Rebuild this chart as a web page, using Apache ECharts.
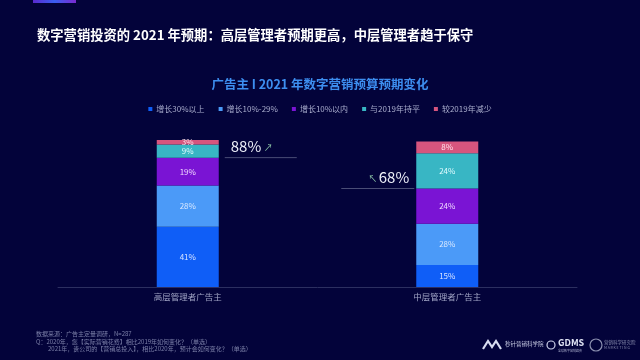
<!DOCTYPE html>
<html><head><meta charset="utf-8">
<style>html,body{margin:0;padding:0;background:#03033a;}#c{width:640px;height:360px;}</style>
<script src="https://cdn.jsdelivr.net/npm/echarts@6/dist/echarts.min.js"></script>
</head><body><div id="c"></div>
<script>
const categories = ['高层管理者广告主', '中层管理者广告主'];
const seriesNames = ['增长30%以上', '增长10%-29%', '增长10%以内', '与2019年持平', '较2019年减少'];
const grow30 = [41, 15];
const grow10to29 = [28, 28];
const growUnder10 = [19, 24];
const flat = [9, 24];
const decrease = [3, 8];
const growthTotals = [88, 68];

const colors = ['#0f5ef7', '#4b9af8', '#7a14d4', '#38b6c4', '#d6557e'];
const font = '"Noto Sans CJK SC", "Noto Sans", sans-serif';
const chart = echarts.init(document.getElementById('c'));
const values = [grow30, grow10to29, growUnder10, flat, decrease];
const labelColors = ['#d8e4ff', '#d8e8ff', '#f0d8ff', '#e0fbff', '#ffe0ea'];

chart.setOption({
  backgroundColor: '#03033a',
  textStyle: { fontFamily: font },
  title: [
    { text: '数字营销投资的 2021 年预期：高层管理者预期更高，中层管理者趋于保守', left: 32, top: 23,
      textStyle: { color: '#ffffff', fontSize: 13.3, fontWeight: 'bold', fontFamily: font } },
    { text: '广告主 I 2021 年数字营销预算预期变化', left: 'center', top: 73,
      textStyle: { color: '#3d8ef0', fontSize: 12.5, fontWeight: 'bold', fontFamily: font } }
  ],
  legend: {
    top: 100, left: 'center', itemWidth: 4, itemHeight: 4, itemGap: 14, icon: 'rect',
    textStyle: { color: '#a8accc', fontSize: 8, fontFamily: font, padding: [0, 0, 0, -1] },
    data: seriesNames
  },
  grid: { left: 58, right: 63, top: 140, bottom: 73 },
  xAxis: {
    type: 'category', data: categories,
    axisLine: { lineStyle: { color: '#2c2f60' } },
    axisTick: { show: false },
    axisLabel: { color: '#a0a4c4', fontSize: 8.5, margin: 6, fontFamily: font }
  },
  yAxis: { type: 'value', min: 0, max: 100, show: false, splitLine: { show: false } },
  series: seriesNames.map((n, i) => ({
    name: n, type: 'bar', stack: 'a', barWidth: 62, data: values[i],
    itemStyle: { color: colors[i] },
    label: { show: true, position: 'inside', formatter: '{c}%', color: labelColors[i], fontSize: 8, fontFamily: font }
  }))
});

// annotations positioned from the data via the chart's scales
const cum = categories.map((_, k) => grow30[k] + grow10to29[k] + growUnder10[k]);
const p0 = chart.convertToPixel({ gridIndex: 0 }, [0, cum[0]]);
const p1 = chart.convertToPixel({ gridIndex: 0 }, [1, cum[1]]);
const half = 31;
const lineColor = '#4a4d76';
chart.setOption({
  graphic: [
    { type: 'rect', left: 33, top: 0, shape: { width: 43, height: 3 },
      style: { fill: new echarts.graphic.LinearGradient(0, 0, 1, 0, [{ offset: 0, color: '#5a2ad0' }, { offset: 0.5, color: '#3a5ef0' }, { offset: 1, color: '#7a2ad0' }]) } },
    // left annotation
    { type: 'line', shape: { x1: p0[0] + half + 6, y1: p0[1], x2: p0[0] + half + 78, y2: p0[1] }, style: { stroke: lineColor, lineWidth: 1 } },
    { type: 'text', x: p0[0] + half + 12, y: p0[1] - 11, style: { text: growthTotals[0] + '%', fill: '#eceef8', fontSize: 15, fontFamily: font, verticalAlign: 'middle' } },
    { type: 'text', x: p0[0] + half + 45, y: p0[1] - 10, style: { text: '↗', fill: '#8fc8a8', fontSize: 9, fontFamily: font, verticalAlign: 'middle' } },
    // right annotation
    { type: 'line', shape: { x1: p1[0] - half - 75, y1: p1[1], x2: p1[0] - half - 2, y2: p1[1] }, style: { stroke: lineColor, lineWidth: 1 } },
    { type: 'text', x: p1[0] - half - 7, y: p1[1] - 11, style: { text: growthTotals[1] + '%', fill: '#eceef8', fontSize: 15, fontFamily: font, align: 'right', verticalAlign: 'middle' } },
    { type: 'text', x: p1[0] - half - 48, y: p1[1] - 10, style: { text: '↖', fill: '#8fc8a8', fontSize: 9, fontFamily: font, verticalAlign: 'middle' } },
    // footnotes
    { type: 'text', left: 36, top: 331, style: { text: '数据来源：广告主定量调研，N=287', fill: '#7c80a8', fontSize: 6, fontFamily: font } },
    { type: 'text', left: 36, top: 338.5, style: { text: 'Q：2020年，您【实际营销花费】相比2019年如何变化？（单选）', fill: '#7c80a8', fontSize: 6, fontFamily: font } },
    { type: 'text', left: 48, top: 346, style: { text: '2021年，贵公司的【营销总投入】，相比2020年，预计会如何变化？（单选）', fill: '#7c80a8', fontSize: 6, fontFamily: font } },
    // logos
    { type: 'polyline', shape: { points: [[483, 349], [488, 341], [492, 347], [496, 341], [501, 349]] }, style: { stroke: '#d8dcf0', lineWidth: 2.2, fill: null } },
    { type: 'text', left: 505, top: 341, style: { text: '秒针营销科学院', fill: '#c8cce4', fontSize: 5.5, fontFamily: font } },
    { type: 'circle', shape: { cx: 551, cy: 345, r: 4 }, style: { fill: 'none', stroke: '#d0d4ec', lineWidth: 1.2 } },
    { type: 'text', left: 558, top: 338, style: { text: 'GDMS', fill: '#e0e4f4', fontSize: 9, fontWeight: 'bold', fontFamily: font } },
    { type: 'text', left: 558, top: 349, style: { text: '全球数字营销峰会', fill: '#a0a4c4', fontSize: 3, fontFamily: font } },
    { type: 'circle', shape: { cx: 596, cy: 345, r: 6 }, style: { fill: 'none', stroke: '#8c90b0', lineWidth: 1.2 } },
    { type: 'text', left: 604, top: 340, style: { text: '营销科学研究院', fill: '#8c90b0', fontSize: 4.5, fontFamily: font } },
    { type: 'text', left: 604, top: 346, style: { text: 'M A R K E T I N G', fill: '#8c90b0', fontSize: 3.5, fontFamily: font } }
  ]
});
</script></body></html>
